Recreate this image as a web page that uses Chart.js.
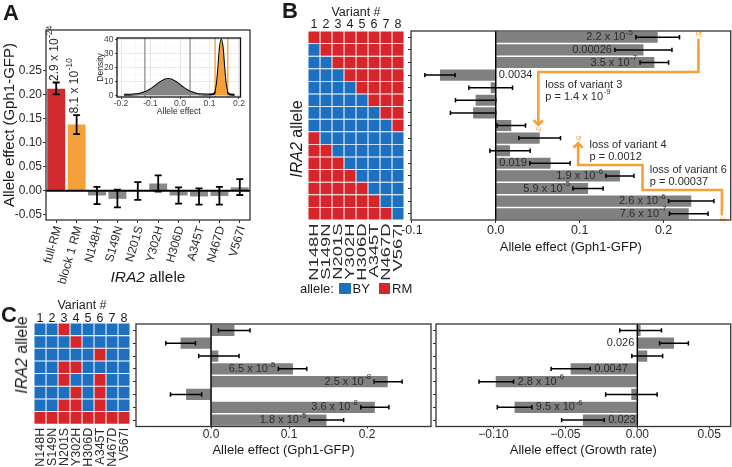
<!DOCTYPE html>
<html><head><meta charset="utf-8">
<script src="https://cdn.jsdelivr.net/npm/chart.js@4.4.1/dist/chart.umd.min.js"></script>
<style>
html,body{margin:0;padding:0;background:#fff;}
#wrap{position:relative;width:732px;height:467px;overflow:hidden;background:#fff;font-family:'Liberation Sans',Arial,Helvetica,sans-serif;color:#1a1a1a;}
#wrap canvas{position:absolute;left:0;top:0;}
.t{position:absolute;white-space:nowrap;}
.rot{position:absolute;white-space:nowrap;transform:translate(-50%,-50%) rotate(-90deg);}
.ctr{position:absolute;white-space:nowrap;transform:translate(-50%,-50%);}
.sq{position:absolute;width:11.5px;height:11.5px;}
</style></head><body>
<div id="wrap">
<canvas id="cA" width="732" height="467"></canvas>
<canvas id="cIn" width="732" height="467"></canvas>
<canvas id="cHB" width="732" height="467"></canvas>
<canvas id="cB" width="732" height="467"></canvas>
<canvas id="cHC" width="732" height="467"></canvas>
<canvas id="cCg" width="732" height="467"></canvas>
<canvas id="cCr" width="732" height="467"></canvas>
<div class="t" style="left:3px;top:2px;font-size:22px;line-height:22px;font-weight:bold">A</div>
<div class="t" style="left:282px;top:0px;font-size:22px;line-height:22px;font-weight:bold">B</div>
<div class="t" style="left:1px;top:304px;font-size:22px;line-height:22px;font-weight:bold">C</div>
<div class="ctr" style="left:148px;top:277px;font-size:15.5px;line-height:1"><i>IRA2</i> allele</div>
<div class="rot" style="left:297px;top:139px;font-size:16px;line-height:1"><i>IRA2</i> allele</div>
<div class="rot" style="left:22px;top:355px;font-size:16px;line-height:1"><i>IRA2</i> allele</div>
<div class="t" style="left:300px;top:282px;font-size:13px;line-height:13px">allele:</div>
<div class="sq" style="left:339px;top:282.5px;background:#1D70BF"></div>
<div class="t" style="left:352.5px;top:282px;font-size:13px;line-height:13px">BY</div>
<div class="sq" style="left:378.5px;top:282.5px;background:#D7262B"></div>
<div class="t" style="left:392px;top:282px;font-size:13px;line-height:13px">RM</div>
</div>
<script>
// ================= DATA =================
// Panel A
const allelesA  = ["full-RM","block 1 RM","N148H","S149N","N201S","Y302H","H306D","A345T","N467D","V567I"];
const effectA   = [0.213, 0.138, -0.010, -0.017, -0.001, 0.015, -0.010, -0.012, -0.011, 0.007];
const errLowA   = [0.201, 0.118, -0.028, -0.035, -0.019, -0.002, -0.027, -0.029, -0.029, -0.009];
const errHighA  = [0.226, 0.158,  0.008,  0.002,  0.018,  0.032,  0.007,  0.005,  0.008,  0.024];
const pValA     = ["2.9 x 10^-24","8.1 x 10^-10","","","","","","","",""];
const yTicksA   = [-0.05, 0, 0.05, 0.10, 0.15, 0.20, 0.25];
const yTickLabelsA = ["-0.05","0.00","0.05","0.10","0.15","0.20","0.25"];

// Panel A inset (density of allele effects)
const densityX = [-0.19,-0.18,-0.17,-0.16,-0.15,-0.14,-0.13,-0.12,-0.11,-0.10,-0.09,-0.08,-0.07,-0.06,-0.05,-0.04,-0.03,-0.02,-0.01,0.00,0.01,0.02,0.03,0.04,0.05,0.06,0.07,0.08,0.09,0.10,0.11,0.115,0.12,0.125,0.13,0.135,0.14,0.145,0.15,0.155,0.16,0.165,0.17,0.175,0.18,0.185];
const densityY = [0.3,0.35,0.4,0.5,0.65,0.9,1.4,2.1,3.0,4.2,5.7,7.4,9.0,10.3,11.3,11.6,11.3,10.3,9.0,7.4,5.7,4.2,3.0,2.1,1.4,0.9,0.65,0.5,0.45,0.5,0.6,1.0,2.5,8.4,20,33.7,40,33.7,20,8.4,2.5,1.0,0.5,0.4,0.35,0.3];
const intervalGray   = [-0.119, 0.034];
const intervalOrange = [0.119, 0.162];
const insetXTicks = [-0.2,-0.15,-0.1,-0.05,0,0.05,0.1,0.15,0.2];
const insetXTickLabels = ["-0.2","","-0.1","","0.0","","0.1","","0.2"];
const insetYTicks = [0,5,10,15,20,25,30,35,40];
const insetYTickLabels = ["0","","10","","20","","30","","40"];

// Shared variant info
const variants = ["N148H","S149N","N201S","Y302H","H306D","A345T","N467D","V567I"];
const variantNumbers = ["1","2","3","4","5","6","7","8"];

// Panel B
const genotypeB = ["RRRRRRRR","BRRRRRRR","BBRRRRRR","BBBRRRRR","BBBBRRRR","BBBBBRRR","BBBBBBRR","BBBBBBBR",
                   "RBBBBBBB","RRBBBBBB","RRRBBBBB","RRRRBBBB","RRRRRBBB","RRRRRRBB","RRRRRRRB"];
const effectB   = [0.193, 0.176, 0.189, -0.0665, -0.006, -0.024, -0.027, 0.0185, 0.0524, 0.017, 0.0654, 0.148, 0.110, 0.233, 0.230];
const errLowB   = [0.167, 0.142, 0.172, -0.0845, -0.032, -0.048, -0.054, 0.0015, 0.0276, -0.007, 0.0406, 0.1313, 0.092, 0.206, 0.207];
const errHighB  = [0.219, 0.210, 0.206, -0.0485, 0.020, 0.000, 0.000, 0.0355, 0.0772, 0.041, 0.0886, 0.1647, 0.128, 0.260, 0.253];
const pValB     = ["2.2 x 10^-5","0.00026","3.5 x 10^-7","0.0034","","","","","","","0.019","1.9 x 10^-6","5.9 x 10^-5","2.6 x 10^-6","7.6 x 10^-7"];
const placeB    = ["in","in","in","out","","","","","","","in","in","in","in","in"];
const xTicksB   = [-0.1, 0, 0.1, 0.2];
const xTickLabelsB = ["-0.1","0.0","0.1","0.2"];
const noteTextB = [["loss of variant 3","p = 1.4 x 10^-9"],["loss of variant 4","p = 0.0012"],["loss of variant 6","p = 0.00037"]];
const noteAtB   = [[0.059, 3.79],[0.1117, 8.55],[0.1836, 10.53]];          // (effect, row)
const arrowPathB = [
  [[0.2415, 0.12],[0.2415, 2.75],[0.0507, 2.75],[0.0507, 6.95]],
  [[0.2695, 14.15],[0.2695, 12.12],[0.1749, 12.12],[0.1749, 10.13],[0.0982, 10.13],[0.0982, 8.4]]
];
const arrowEndLabelB = [["5'","3'"],["3'","5'"]];

// Panel C
const genotypeC = ["BBRBBBBB","BBBRBBBB","BBBBBRBB","BBRRBBBB","BBRBBRBB","BBBRBRBB","BBRRBRBB","RRRRRRRR"];
const effectCgfp   = [0.030, -0.039, 0.0094, 0.105, 0.2265, -0.032, 0.210, 0.148];
const errLowCgfp   = [0.0094, -0.058, -0.0158, 0.0863, 0.209, -0.052, 0.192, 0.126];
const errHighCgfp  = [0.050, -0.020, 0.0359, 0.1227, 0.245, -0.012, 0.228, 0.170];
const pValCgfp     = ["","","","6.5 x 10^-5","2.5 x 10^-8","","3.6 x 10^-8","1.8 x 10^-5"];
const placeCgfp    = ["","","","in","in","","in","in"];
const xTicksCgfp   = [0, 0.1, 0.2];
const xTickLabelsCgfp = ["0.0","0.1","0.2"];
const effectCgrowth  = [0.0023, 0.0255, 0.0069, -0.0463, -0.0984, -0.0042, -0.0853, -0.0378];
const errLowCgrowth  = [-0.0122, 0.0155, -0.0038, -0.0599, -0.110, -0.022, -0.0973, -0.0526];
const errHighCgrowth = [0.0168, 0.0355, 0.0176, -0.0327, -0.086, 0.0138, -0.0733, -0.023];
const pValCgrowth    = ["","0.026","","0.0047","2.8 x 10^-6","","9.5 x 10^-6","0.023"];
const placeCgrowth   = ["","out","","in","in","","in","in"];
const xTicksCgrowth  = [-0.10, -0.05, 0, 0.05];
const xTickLabelsCgrowth = ["\u22120.10","\u22120.05","0.00","0.05"];

// ================= STYLE / HELPERS =================
const FONT = "'Liberation Sans', Arial, Helvetica, sans-serif";
const TXT = '#2b2b2b';
const RED_BAR = '#D12B2F', ORANGE = '#F6A03A', GRAY = '#808080', GRAY_A = '#8A8A8A', HEAT_RED = '#D7262B', HEAT_BLUE = '#1D70BF';
const W = 732, H = 467;

function padFor(area, ax) {
  return { left: area.l - (ax.left || 0), top: area.t - (ax.top || 0), right: W - area.r, bottom: H - area.b - (ax.bottom || 0) };
}
function baseOpts(area, ax) {
  return { responsive:false, animation:false, devicePixelRatio:1, events:[],
    layout:{ padding: padFor(area, ax) },
    plugins:{ legend:{display:false}, tooltip:{enabled:false} } };
}
function f(size, lh) { return { family: FONT, size: size, lineHeight: lh || 1 }; }
function setTicks(vals) { return s => { s.ticks = vals.map(v => ({ value: v })); }; }

function drawRich(ctx, str, x, y, align, size, color) {
  const parts = str.split('^'); const b = parts[0], s = parts[1] || '';
  const ss = size * 0.7;
  ctx.font = size + 'px ' + FONT; const wb = ctx.measureText(b).width;
  ctx.font = ss + 'px ' + FONT; const ws = s ? ctx.measureText(s).width + 0.6 : 0;
  const tot = wb + ws;
  const x0 = align === 'right' ? x - tot : (align === 'center' ? x - tot / 2 : x);
  ctx.fillStyle = color || TXT; ctx.textAlign = 'left'; ctx.textBaseline = 'middle';
  ctx.font = size + 'px ' + FONT; ctx.fillText(b, x0, y);
  if (s) { ctx.font = ss + 'px ' + FONT; ctx.fillText(s, x0 + wb + 0.6, y - size * 0.4); }
}

function decor(cfg) {
  return { id:'decor', afterDatasetsDraw(chart) {
    const ctx = chart.ctx, a = chart.chartArea, x = chart.scales.x, y = chart.scales.y;
    ctx.save();
    ctx.strokeStyle = '#000'; ctx.lineWidth = cfg.zeroW; ctx.beginPath();
    if (cfg.horizontal) { const z = x.getPixelForValue(0); ctx.moveTo(z, a.top); ctx.lineTo(z, a.bottom); }
    else { const z = y.getPixelForValue(0); ctx.moveTo(a.left, z); ctx.lineTo(a.right, z); }
    ctx.stroke();
    ctx.lineWidth = cfg.lw;
    cfg.lo.forEach((lo, i) => {
      const hi = cfg.hi[i], c = cfg.cap; ctx.beginPath();
      if (cfg.horizontal) {
        const m = y.getPixelForValue(i), p1 = x.getPixelForValue(lo), p2 = x.getPixelForValue(hi);
        ctx.moveTo(p1, m); ctx.lineTo(p2, m); ctx.moveTo(p1, m - c); ctx.lineTo(p1, m + c); ctx.moveTo(p2, m - c); ctx.lineTo(p2, m + c);
      } else {
        const m = x.getPixelForValue(i), p1 = y.getPixelForValue(lo), p2 = y.getPixelForValue(hi);
        ctx.moveTo(m, p1); ctx.lineTo(m, p2); ctx.moveTo(m - c, p1); ctx.lineTo(m + c, p1); ctx.moveTo(m - c, p2); ctx.lineTo(m + c, p2);
      }
      ctx.stroke();
    });
    if (cfg.labels) {
      cfg.labels.forEach((s, i) => {
        if (!s) return;
        const m = y.getPixelForValue(i), pos = cfg.vals[i] >= 0;
        let xx, al;
        if (cfg.place[i] === 'out') { xx = x.getPixelForValue(0) + (pos ? -3 : 3); al = pos ? 'right' : 'left'; }
        else if (pos) { xx = x.getPixelForValue(cfg.lo[i]) - 3; al = 'right'; }
        else { xx = x.getPixelForValue(cfg.hi[i]) + 4; al = 'left'; }
        drawRich(ctx, s, xx, m, al, cfg.labelSize, TXT);
      });
    }
    if (cfg.after) cfg.after(chart, ctx, x, y);
    ctx.strokeStyle = '#333'; ctx.lineWidth = 1.3;
    ctx.strokeRect(a.left, a.top, a.right - a.left, a.bottom - a.top);
    ctx.restore();
  }};
}

const tickGrid = { display:true, drawOnChartArea:false, drawTicks:true, tickLength:3, color:'#333', lineWidth:1 };

// ================= PANEL A =================
const areaA = { l:46, t:30, r:250, b:220 };
new Chart(document.getElementById('cA'), {
  type:'bar',
  data:{ labels: allelesA, datasets:[{ data: effectA, backgroundColor: [RED_BAR, ORANGE, GRAY_A, GRAY_A, GRAY_A, GRAY_A, GRAY_A, GRAY_A, GRAY_A, GRAY_A], barPercentage:0.88, categoryPercentage:1 }] },
  options: Object.assign(baseOpts(areaA, { left:46, bottom:70 }), {
    scales:{
      x:{ type:'category', afterFit: s => { s.height = 70; }, grid: Object.assign({}, tickGrid, { offset:false }), border:{display:false},
          ticks:{ display:false } },
      y:{ type:'linear', min:-0.0612, max:0.3356, afterFit: s => { s.width = 46; }, afterBuildTicks: setTicks(yTicksA),
          ticks:{ callback:(v, i) => yTickLabelsA[i], font: f(12), color: TXT, padding:1 },
          grid: tickGrid, border:{display:false},
          title:{ display:true, text:'Allele effect (Gph1-GFP)', font: f(15), color:'#1a1a1a', padding:{top:2.5, bottom:0} } }
    }
  }),
  plugins:[ decor({ horizontal:false, zeroW:2, lw:1.8, cap:3.5, lo: errLowA, hi: errHighA,
    after:(chart, ctx, x, y) => {
      pValA.forEach((s, i) => {
        if (!s) return;
        ctx.save(); ctx.translate(x.getPixelForValue(i) - 2, y.getPixelForValue(errHighA[i]) - 1.5); ctx.rotate(-Math.PI / 2);
        drawRich(ctx, s, 0, 0, 'left', 12, TXT); ctx.restore();
      });
      // category labels at the x scale's tick positions, rotated
      const a = chart.chartArea;
      ctx.save(); ctx.fillStyle = TXT; ctx.font = '12px ' + FONT; ctx.textAlign = 'right'; ctx.textBaseline = 'middle';
      allelesA.forEach((lab, i) => {
        ctx.save(); ctx.translate(x.getPixelForValue(i) + 2, a.bottom + 6.5); ctx.rotate(-74 * Math.PI / 180);
        ctx.fillText(lab, 0, 0); ctx.restore();
      });
      ctx.restore();
    } }) ]
});

// ================= PANEL A INSET =================
const areaIn = { l:117, t:38, r:240.5, b:97 };
new Chart(document.getElementById('cIn'), {
  type:'line',
  data:{ datasets:[
    { data: densityX.map((x, i) => ({ x: x, y: x <= 0.1 ? densityY[i] : null })), fill:'origin', backgroundColor:'#858585', borderWidth:0, pointRadius:0, cubicInterpolationMode:'monotone', spanGaps:false },
    { data: densityX.map((x, i) => ({ x: x, y: (x >= intervalOrange[0] && x <= intervalOrange[1]) ? densityY[i] : null })), fill:'origin', backgroundColor: ORANGE, borderWidth:0, pointRadius:0, cubicInterpolationMode:'monotone', spanGaps:false },
    { data: densityX.map((x, i) => ({ x: x, y: densityY[i] })), fill:false, borderColor:'#000', borderWidth:2, pointRadius:0, cubicInterpolationMode:'monotone' }
  ]},
  options: Object.assign(baseOpts(areaIn, { left:22, bottom:19.25 }), {
    scales:{
      x:{ type:'linear', min:-0.2136, max:0.2051, afterFit: s => { s.height = 19.25; }, afterBuildTicks: setTicks(insetXTicks),
          ticks:{ callback:(v, i) => insetXTickLabels[i], font: f(8.5), color:'#444', padding:0.75, autoSkip:false, maxRotation:0 },
          grid:{ display:true, drawOnChartArea:true, drawTicks:true, tickLength:2, lineWidth: c => c.index % 2 ? 0.5 : 0.8,
                 color: c => c.index % 2 ? '#F0F0F0' : '#E2E2E2', tickColor: c => c.index % 2 ? 'rgba(0,0,0,0)' : '#333' },
          border:{display:false},
          title:{ display:true, text:'Allele effect', font: f(8.5), color:'#1a1a1a', padding:{top:0, bottom:0} } },
      y:{ type:'linear', min:-1.3, max:41.2, afterFit: s => { s.width = 22; }, afterBuildTicks: setTicks(insetYTicks),
          ticks:{ callback:(v, i) => insetYTickLabels[i], font: f(8.5), color:'#444', padding:1.5, autoSkip:false },
          grid:{ display:true, drawOnChartArea:true, drawTicks:true, tickLength:2, lineWidth: c => c.index % 2 ? 0.5 : 0.8,
                 color: c => c.index % 2 ? '#F0F0F0' : '#E2E2E2', tickColor: c => c.index % 2 ? 'rgba(0,0,0,0)' : '#333' },
          border:{display:false},
          title:{ display:true, text:'Density', font: f(8.5), color:'#1a1a1a', padding:{top:1, bottom:0} } }
    }
  }),
  plugins:[{ id:'insetDecor',
    beforeDraw(chart) { const a = chart.chartArea, ctx = chart.ctx; ctx.save(); ctx.fillStyle = '#fff'; ctx.fillRect(a.left, a.top, a.right - a.left, a.bottom - a.top); ctx.restore(); },
    beforeDatasetsDraw(chart) {
      const a = chart.chartArea, ctx = chart.ctx, x = chart.scales.x; ctx.save();
      ctx.lineWidth = 1; ctx.strokeStyle = '#6e6e6e';
      intervalGray.forEach(v => { const p = x.getPixelForValue(v); ctx.beginPath(); ctx.moveTo(p, a.top); ctx.lineTo(p, a.bottom); ctx.stroke(); });
      ctx.lineWidth = 1.4; ctx.strokeStyle = ORANGE;
      intervalOrange.forEach(v => { const p = x.getPixelForValue(v); ctx.beginPath(); ctx.moveTo(p, a.top); ctx.lineTo(p, a.bottom); ctx.stroke(); });
      ctx.restore();
    },
    afterDatasetsDraw(chart) { const a = chart.chartArea, ctx = chart.ctx; ctx.save(); ctx.strokeStyle = '#111'; ctx.lineWidth = 1.3; ctx.strokeRect(a.left, a.top, a.right - a.left, a.bottom - a.top); ctx.restore(); }
  }]
});

// ================= HEATMAPS =================
// column labels are drawn at the scale's tick positions, optionally stretched along their length
function heatmap(id, geno, area, topH, topTickPad, titlePadTop, botH, labelSize, stretch) {
  const cellCenters = variants.map((_, i) => i + 0.5);
  const datasets = variants.map((v, c) => ({
    label: v,
    data: geno.map(() => [c, c + 1]),
    backgroundColor: geno.map(g => g[c] === 'R' ? HEAT_RED : HEAT_BLUE),
    borderColor:'#ffffff', borderWidth:0.8, borderSkipped:false, grouped:false, barPercentage:1, categoryPercentage:1
  }));
  return new Chart(document.getElementById(id), {
    type:'bar',
    data:{ labels: geno.map((_, i) => 'row' + (i + 1)), datasets: datasets },
    options: Object.assign(baseOpts(area, { top: topH, bottom: botH }), {
      indexAxis:'y',
      scales:{
        x:{ type:'linear', position:'bottom', min:0, max:8, afterFit: s => { s.height = botH; }, afterBuildTicks: setTicks(cellCenters),
            ticks:{ display:false }, grid:{ display:false, drawTicks:false }, border:{display:false} },
        x2:{ type:'linear', position:'top', min:0, max:8, afterFit: s => { s.height = topH; }, afterBuildTicks: setTicks(cellCenters),
            ticks:{ callback:(v, i) => variantNumbers[i], font: f(12.5), color:'#1a1a1a', maxRotation:0, autoSkip:false, padding: topTickPad },
            grid:{ display:false, drawTicks:false }, border:{display:false},
            title:{ display:true, text:'Variant #', font: f(12.5), color:'#1a1a1a', padding:{ top: titlePadTop, bottom:0 } } },
        y:{ type:'category', display:false }
      }
    }),
    plugins:[{ id:'colLabels', afterDraw(chart) {
      const ctx = chart.ctx, x = chart.scales.x, a = chart.chartArea;
      ctx.save(); ctx.fillStyle = TXT; ctx.font = labelSize + 'px ' + FONT; ctx.textAlign = 'right'; ctx.textBaseline = 'middle';
      x.ticks.forEach((t, i) => {
        ctx.save(); ctx.translate(x.getPixelForValue(t.value), a.bottom + 3.5); ctx.scale(1, stretch); ctx.rotate(-Math.PI / 2);
        ctx.fillText(variants[i], 0, 0.5); ctx.restore();
      });
      ctx.restore();
    }}]
  });
}
heatmap('cHB', genotypeB, { l:308, t:31, r:404, b:220 }, 31, 0, 6.4, 70, 13.5, 1.36);
heatmap('cHC', genotypeC, { l:34, t:323, r:130, b:424.3 }, 30, -1.5, 5.8, 42.7, 12.5, 1.0);

// ================= HORIZONTAL BAR PANELS =================
function hbar(id, area, vals, lo, hi, labels, place, xmin, xmax, ticks, tickLabels, title, tickPad, tickLen, botH, tickSize, after) {
  return new Chart(document.getElementById(id), {
    type:'bar',
    data:{ labels: vals.map((_, i) => 'r' + (i + 1)), datasets:[{ data: vals, backgroundColor: GRAY, barPercentage:0.88, categoryPercentage:1 }] },
    options: Object.assign(baseOpts(area, { left:3, bottom: botH }), {
      indexAxis:'y',
      scales:{
        x:{ type:'linear', min: xmin, max: xmax, afterFit: s => { s.height = botH; }, afterBuildTicks: setTicks(ticks),
            ticks:{ callback:(v, i) => tickLabels[i], font: f(tickSize), color: TXT, padding: tickPad, maxRotation:0, autoSkip:false },
            grid: Object.assign({}, tickGrid, { tickLength: tickLen }), border:{display:false},
            title:{ display:true, text: title, font: f(13), color:'#1a1a1a', padding:0 } },
        y:{ type:'category', afterFit: s => { s.width = 3; }, ticks:{ display:false },
            grid: Object.assign({}, tickGrid, { offset:false }), border:{display:false} }
      }
    }),
    plugins:[ decor({ horizontal:true, zeroW:1.5, lw:1.5, cap:2.2, lo: lo, hi: hi, vals: vals, labels: labels, place: place, labelSize:11, after: after }) ]
  });
}

function drawArrow(ctx, pts) {
  ctx.beginPath(); ctx.moveTo(pts[0][0], pts[0][1]);
  for (let k = 1; k < pts.length; k++) ctx.lineTo(pts[k][0], pts[k][1]);
  ctx.stroke();
  const [x1, y1] = pts[pts.length - 2], [x2, y2] = pts[pts.length - 1];
  const ang = Math.atan2(y2 - y1, x2 - x1), L = 6.5, sp = Math.PI / 4;
  ctx.beginPath();
  ctx.moveTo(x2 - L * Math.cos(ang - sp), y2 - L * Math.sin(ang - sp));
  ctx.lineTo(x2, y2);
  ctx.lineTo(x2 - L * Math.cos(ang + sp), y2 - L * Math.sin(ang + sp));
  ctx.stroke();
}
function smallLabel(ctx, s, x, y) {
  ctx.save(); ctx.translate(x, y); ctx.rotate(Math.PI / 2);
  ctx.fillStyle = ORANGE; ctx.font = '8px ' + FONT; ctx.textAlign = 'center'; ctx.textBaseline = 'middle';
  ctx.fillText(s, 0, 0); ctx.restore();
}

hbar('cB', { l:411, t:31, r:730.7, b:220 }, effectB, errLowB, errHighB, pValB, placeB, -0.101, 0.280,
  xTicksB, xTickLabelsB, 'Allele effect (Gph1-GFP)', 1.75, 3, 33.8, 12.5,
  (chart, ctx, x, y) => {
    noteTextB.forEach((lines, k) => {
      const px = x.getPixelForValue(noteAtB[k][0]);
      lines.forEach((s, j) => drawRich(ctx, s, px, y.getPixelForValue(noteAtB[k][1] + j * 0.92), 'left', 11, TXT));
    });
    ctx.save(); ctx.strokeStyle = ORANGE; ctx.lineWidth = 2.6; ctx.lineJoin = 'miter'; ctx.lineCap = 'butt';
    arrowPathB.forEach((path, k) => {
      const pts = path.map(p => [x.getPixelForValue(p[0]), y.getPixelForValue(p[1])]);
      drawArrow(ctx, pts);
      const first = pts[0], last = pts[pts.length - 1];
      const dirStart = pts[1][1] > first[1] ? -1 : 1;
      smallLabel(ctx, arrowEndLabelB[k][0], first[0], first[1] + dirStart * 4.5);
      const dirEnd = last[1] > pts[pts.length - 2][1] ? 1 : -1;
      smallLabel(ctx, arrowEndLabelB[k][1], last[0], last[1] + dirEnd * 4.5);
    });
    ctx.restore();
  });

hbar('cCg', { l:136, t:324, r:431, b:426.5 }, effectCgfp, errLowCgfp, errHighCgfp, pValCgfp, placeCgfp, -0.0962, 0.282,
  xTicksCgfp, xTickLabelsCgfp, 'Allele effect (Gph1-GFP)', 0, 2, 30, 12, null);

hbar('cCr', { l:436, t:324, r:730.7, b:426.5 }, effectCgrowth, errLowCgrowth, errHighCgrowth, pValCgrowth, placeCgrowth, -0.1399, 0.0649,
  xTicksCgrowth, xTickLabelsCgrowth, 'Allele effect (Growth rate)', 0, 2, 30, 12, null);
</script>
</body></html>
